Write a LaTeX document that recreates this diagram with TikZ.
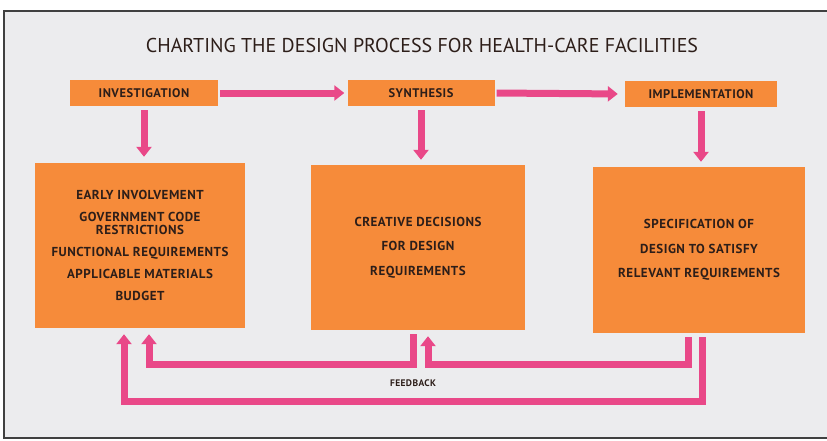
\documentclass[tikz,border=0pt]{standalone}
\usepackage{fontspec}
\setmainfont{PT Sans}
\newfontfamily\boxfont{PT Sans}[LetterSpace=4.0]
\usetikzlibrary{arrows.meta,calc}
\definecolor{boxorange}{RGB}{246,139,58}
\definecolor{arrowpink}{RGB}{233,72,136}
\definecolor{panelgray}{RGB}{236,236,238}
\definecolor{inkbrown}{RGB}{45,30,25}

\begin{document}
\begin{tikzpicture}[x=1pt, y=-1pt, >={Triangle[width=15pt,length=10pt]},
    stage/.style={fill=boxorange, minimum height=26pt, inner sep=0pt, text=inkbrown,
        font=\boxfont\bfseries\fontsize{12.5}{14}\selectfont},
    panel/.style={fill=boxorange, inner sep=0pt, align=center, text=inkbrown,
        font=\boxfont\bfseries\fontsize{13}{13.5}\selectfont},
    flow/.style={draw=arrowpink, line width=7pt}]
    % page and frame
    \useasboundingbox (0,0) rectangle (827,440);
    \fill[white] (0,0) rectangle (827,440);
    \fill[panelgray] (4,11) rectangle (827,438);
    \draw[line width=1.6pt, black!75] (827,11) -- (4,11) -- (4,438) -- (827,438);

    % title
    \node[text=inkbrown, font=\fontsize{20}{24}\selectfont] (title) at (422,45)
        {CHARTING THE DESIGN PROCESS FOR HEALTH-CARE FACILITIES};

    % the three stages
    \node[stage, minimum width=148pt] (inv) at (144,93) {INVESTIGATION};
    \node[stage, minimum width=147pt] (syn) at (421,93) {SYNTHESIS};
    \node[stage, minimum width=152pt] (impl) at (701,94) {IMPLEMENTATION};

    % what each stage covers
    \node[panel, minimum width=210pt, minimum height=165pt] (b1) at (140,245.5)
        {EARLY INVOLVEMENT\\[8.5pt]GOVERNMENT CODE\\RESTRICTIONS\\[8.5pt]FUNCTIONAL REQUIREMENTS\\[8.5pt]APPLICABLE MATERIALS\\[8.5pt]BUDGET};
    \node[panel, minimum width=214pt, minimum height=165pt] (b2) at (418,247.5)
        {CREATIVE DECISIONS\\[11pt]FOR DESIGN\\[11pt]REQUIREMENTS};
    \node[panel, minimum width=212pt, minimum height=166pt] (b3) at (699,250)
        {SPECIFICATION OF\\[11pt]DESIGN TO SATISFY\\[11pt]RELEVANT REQUIREMENTS};

    % stage to stage
    \draw[flow, ->, shorten <=2pt, shorten >=3pt] (inv.east) -- (syn.west);
    \draw[flow, ->, shorten <=2pt, shorten >=7pt] (syn.east) -- (impl.west);

    % stage down to its panel
    \draw[flow, ->, shorten <=4pt, shorten >=6pt] (inv.south) -- (inv.south |- b1.north);
    \draw[flow, ->, shorten <=4pt, shorten >=5pt] (syn.south) -- (syn.south |- b2.north);
    \draw[flow, ->, shorten <=4pt, shorten >=5pt] (impl.south) -- (impl.south |- b3.north);

    % feedback loops
    \coordinate (fbInner) at (0,364);
    \coordinate (fbOuter) at (0,401);
    \coordinate (b1in) at ($(b1.south)+(9,6)$);
    \coordinate (b1out) at ($(b1.south)+(-16,6)$);
    \coordinate (b2in) at ($(b2.south)+(10,6)$);
    \coordinate (b2from) at ($(b2.south)+(-5,4)$);
    \coordinate (b3from) at ($(b3.south)+(-11,4)$);
    \coordinate (b3outer) at ($(b3.south)+(3,4)$);
    \draw[flow, ->] (b2from) -- (b2from |- fbInner) -| (b1in);
    \draw[flow, ->] (b3from) -- (b3from |- fbInner) -| (b2in);
    \draw[flow, ->] (b3outer) -- (b3outer |- fbOuter) -| (b1out);
    \node[text=inkbrown, font=\boxfont\bfseries\fontsize{9.5}{12}\selectfont] (fblabel) at (413,383) {FEEDBACK};
\end{tikzpicture}
\end{document}
